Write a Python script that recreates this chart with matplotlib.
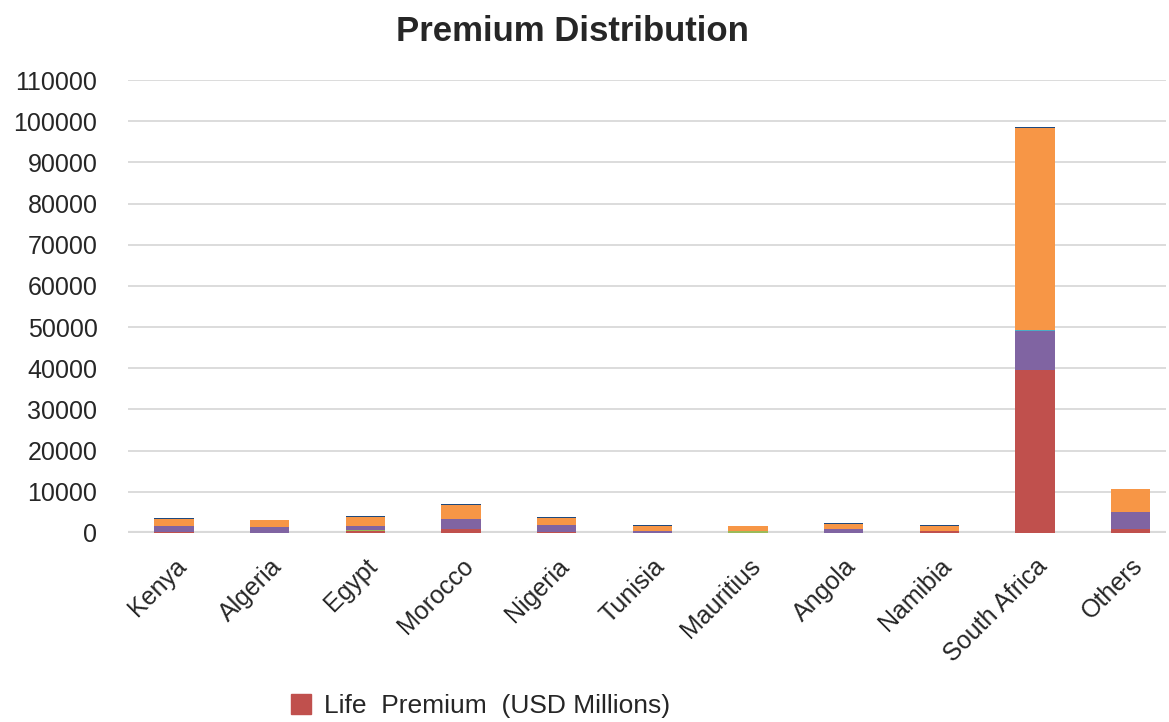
import numpy as np
import matplotlib.pyplot as plt
from matplotlib.patches import Patch

countries = ['Kenya', 'Algeria', 'Egypt', 'Morocco', 'Nigeria', 'Tunisia',
             'Mauritius', 'Angola', 'Namibia', 'South Africa', 'Others']

# stacked series, bottom to top (USD millions)
life = [250, 50, 500, 1000, 300, 100, 50, 100, 500, 39600, 1000]
green_part = [50, 0, 200, 0, 0, 0, 400, 0, 0, 0, 0]
purple_part = [1300, 1400, 1000, 2300, 1600, 500, 0, 800, 100, 9500, 4150]
teal_part = [0, 100, 0, 0, 0, 0, 0, 0, 0, 200, 0]
orange_part = [1800, 1600, 2200, 3500, 1800, 1100, 1200, 1400, 1200, 49000, 5550]
blue_part = [150, 100, 150, 150, 200, 200, 150, 150, 150, 250, 0]

series = [
    (life, '#C0504D'),
    (green_part, '#9BBB59'),
    (purple_part, '#8064A2'),
    (teal_part, '#4BACC6'),
    (orange_part, '#F79646'),
    (blue_part, '#1F497D'),
]

plt.rcParams['font.family'] = ['Liberation Sans', 'DejaVu Sans']

fig = plt.figure(figsize=(11.69, 7.22), dpi=100)
ax = fig.add_axes([0.1095, 0.2618, 0.888, 0.6272])

x = np.arange(len(countries))
bottom = np.zeros(len(countries))
for vals, col in series:
    vals = np.array(vals, dtype=float)
    ax.bar(x, vals, 0.41, bottom=bottom, color=col, linewidth=0, zorder=3)
    bottom += vals

ax.set_ylim(0, 110000)
ax.set_xlim(-0.48, 10.37)
ax.set_yticks(np.arange(0, 110001, 10000))
ax.yaxis.grid(True, color='#D9D9D9', linewidth=1.3, zorder=0)
ax.axhline(0, color='#D9D9D9', linewidth=3, zorder=2)
for s in ax.spines.values():
    s.set_visible(False)
ax.tick_params(axis='both', length=0, labelsize=18, colors='#262626')
ax.tick_params(axis='y', pad=22)
ax.set_xticks(x)
ax.set_xticklabels(countries, rotation=45, ha='right', rotation_mode='anchor')
ax.tick_params(axis='x', pad=15)

fig.text(0.49, 0.956, 'Premium Distribution', ha='center', va='center',
         fontsize=25, fontweight='bold', color='#262626')

fig.legend(handles=[Patch(color='#C0504D', label='Life  Premium  (USD Millions)')],
           loc='center left', bbox_to_anchor=(0.229, 0.022), frameon=False,
           fontsize=19, handlelength=0.75, handleheight=0.75, handletextpad=0.5,
           labelcolor='#262626')

fig.savefig('out.png', dpi=100)
